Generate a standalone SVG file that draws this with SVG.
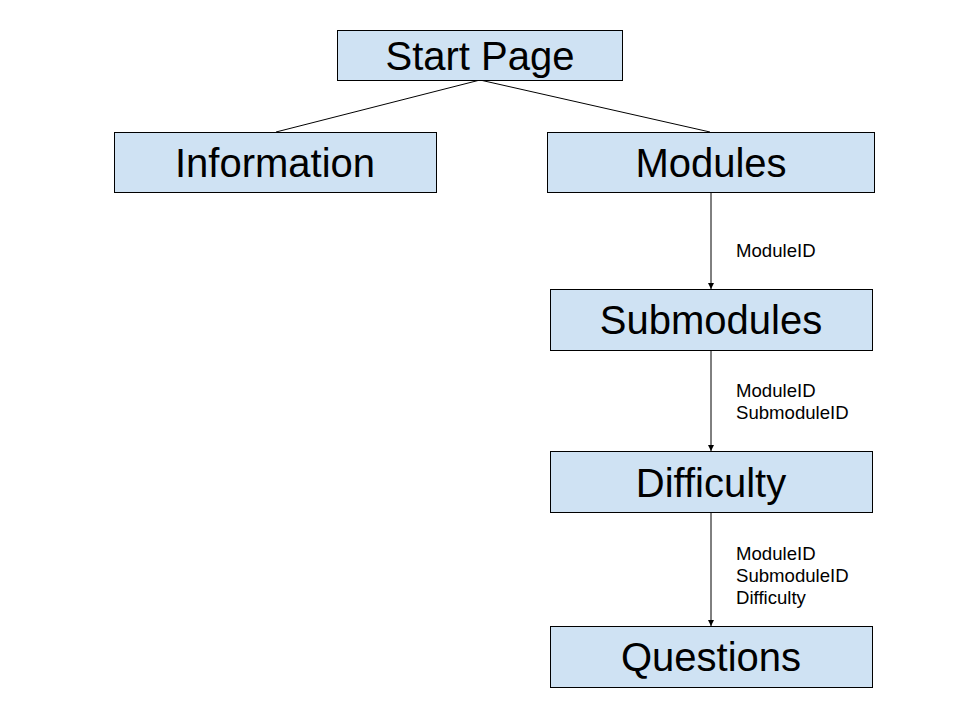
<svg xmlns="http://www.w3.org/2000/svg" width="960" height="720" viewBox="0 0 960 720">
<style>
.box{fill:#cfe2f3;stroke:#000;stroke-width:1}
.t{font-family:"Liberation Sans",Arial,sans-serif;font-size:40px;text-anchor:middle;fill:#000}
.l{font-family:"Liberation Sans",Arial,sans-serif;font-size:18.6px;fill:#000}
.c{stroke:#000;stroke-width:1;fill:none}
</style>
<defs>
<marker id="ah" markerWidth="8" markerHeight="8" refX="6" refY="3" orient="auto" markerUnits="userSpaceOnUse">
<path d="M0,0 L6,3 L0,6 z" fill="#000"/>
</marker>
</defs>
<rect width="960" height="720" fill="#fff"/>
<g id="connectors">
<line class="c" x1="480" y1="80" x2="276" y2="132"/>
<line class="c" x1="480" y1="80" x2="710" y2="132"/>
<line class="c" x1="711" y1="192" x2="711" y2="289" marker-end="url(#ah)"/>
<line class="c" x1="711" y1="350" x2="711" y2="451" marker-end="url(#ah)"/>
<line class="c" x1="711" y1="512" x2="711" y2="626" marker-end="url(#ah)"/>
<text class="l" x="736" y="257">ModuleID</text>
<text class="l" x="736" y="397">ModuleID</text>
<text class="l" x="736" y="419">SubmoduleID</text>
<text class="l" x="736" y="560">ModuleID</text>
<text class="l" x="736" y="582">SubmoduleID</text>
<text class="l" x="736" y="604">Difficulty</text>
</g>
<g id="start">
<rect class="box" x="337.5" y="30.5" width="285" height="50"/>
<text class="t" x="480" y="70">Start Page</text>
</g>
<g id="information">
<rect class="box" x="114.5" y="132.5" width="322" height="60"/>
<text class="t" x="275" y="177">Information</text>
</g>
<g id="modules">
<rect class="box" x="547.5" y="132.5" width="327" height="60"/>
<text class="t" x="711" y="177">Modules</text>
</g>
<g id="submodules">
<rect class="box" x="550.5" y="289.5" width="322" height="61"/>
<text class="t" x="711" y="334">Submodules</text>
</g>
<g id="difficulty">
<rect class="box" x="550.5" y="451.5" width="322" height="61"/>
<text class="t" x="711" y="497">Difficulty</text>
</g>
<g id="questions">
<rect class="box" x="550.5" y="626.5" width="322" height="61"/>
<text class="t" x="711" y="671">Questions</text>
</g>
</svg>
